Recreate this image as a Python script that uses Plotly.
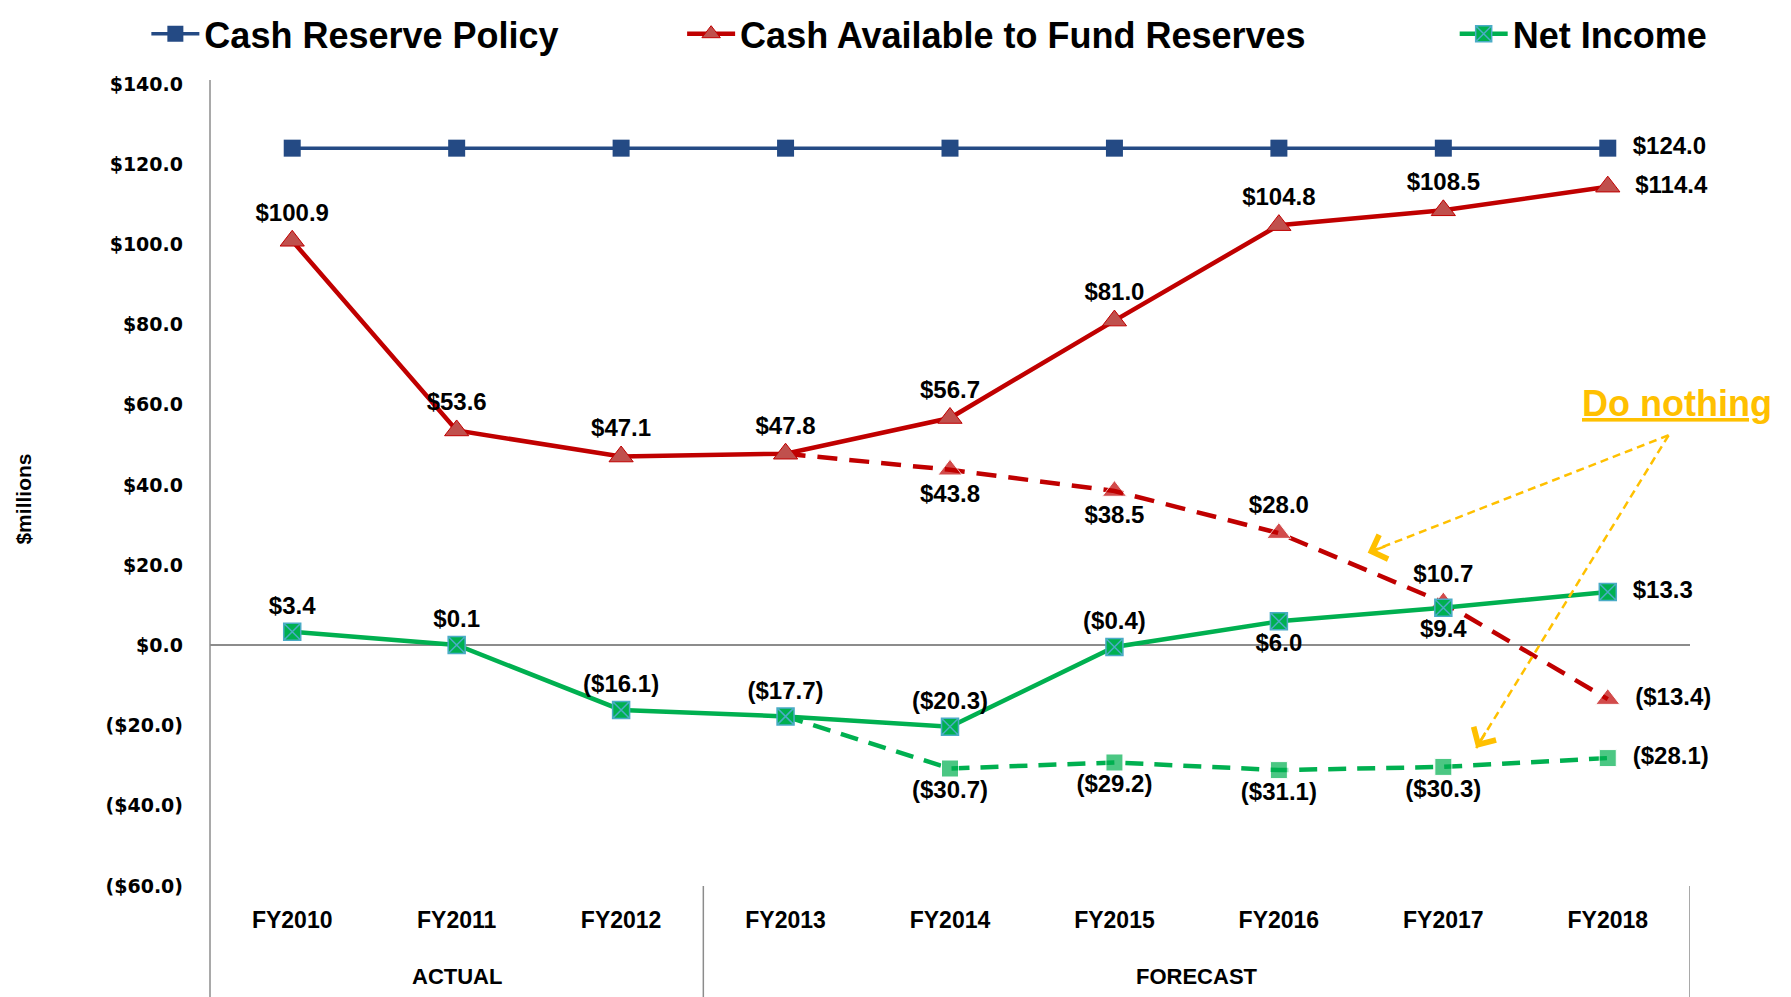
import plotly.graph_objects as go

years = ["FY2010", "FY2011", "FY2012", "FY2013", "FY2014", "FY2015", "FY2016", "FY2017", "FY2018"]
reserve_policy = [124.0, 124.0, 124.0, 124.0, 124.0, 124.0, 124.0, 124.0, 124.0]
cash_available = [100.9, 53.6, 47.1, 47.8, 56.7, 81.0, 104.8, 108.5, 114.4]
net_income = [3.4, 0.1, -16.1, -17.7, -20.3, -0.4, 6.0, 9.4, 13.3]
# "do nothing" scenario, starts at FY2013
dn_years = ["FY2013", "FY2014", "FY2015", "FY2016", "FY2017", "FY2018"]
dn_cash = [47.8, 43.8, 38.5, 28.0, 10.7, -13.4]
dn_income = [-17.7, -30.7, -29.2, -31.1, -30.3, -28.1]
yticks = [140, 120, 100, 80, 60, 40, 20, 0, -20, -40, -60]

BLUE = "#244A84"
RED = "#C00000"
GREEN = "#00B050"
GOLD = "#FFC000"
SANS = "Liberation Sans, Arial"
LABEL = dict(family=SANS, size=24, color="black", weight="bold")
PAD = "\u00a0\u00a0"


def money(v):
    return f"${v:.1f}" if v >= 0 else f"(${-v:.1f})"


def labels(vals, last_only=False):
    out = [("" if last_only else money(v)) for v in vals[:-1]]
    return out + [PAD + money(vals[-1])]


x_all = list(range(len(years)))
x_dn = [years.index(y) for y in dn_years]

fig = go.Figure()

fig.add_trace(go.Scatter(
    x=x_all, y=reserve_policy, name="Cash Reserve Policy", legend="legend",
    mode="lines+markers+text", line=dict(color=BLUE, width=3.5),
    marker=dict(symbol="square", size=17, color=BLUE),
    text=labels(reserve_policy, last_only=True), textposition="middle right",
    textfont=LABEL, cliponaxis=False))

dn_cash_text = labels(dn_cash)
dn_cash_text[0] = ""
fig.add_trace(go.Scatter(
    x=x_dn, y=dn_cash, showlegend=False, mode="lines+markers+text",
    line=dict(color=RED, width=4.5, dash="20px,12px"),
    marker=dict(symbol="triangle-up", size=[0] + [21] * 5, color=RED),
    text=dn_cash_text,
    textposition=["top center", "bottom center", "bottom center", "top center", "top center", "middle right"],
    textfont=LABEL, cliponaxis=False))

fig.add_trace(go.Scatter(
    x=x_all, y=cash_available, name="Cash Available to Fund Reserves", legend="legend2",
    mode="lines+markers+text", line=dict(color=RED, width=4.5),
    marker=dict(symbol="triangle-up", size=21, color="#C0504D", line=dict(color=RED, width=1)),
    text=labels(cash_available),
    textposition=["top center"] * 8 + ["middle right"],
    textfont=LABEL, cliponaxis=False))

dn_income_text = labels(dn_income)
dn_income_text[0] = ""
fig.add_trace(go.Scatter(
    x=x_dn, y=dn_income, showlegend=False, mode="lines+markers+text",
    line=dict(color=GREEN, width=4.5, dash="18px,11px"),
    marker=dict(symbol="square", size=[0] + [17] * 5, color=GREEN),
    text=dn_income_text,
    textposition=["top center"] + ["bottom center"] * 4 + ["middle right"],
    textfont=LABEL, cliponaxis=False))

fig.add_trace(go.Scatter(
    x=x_all, y=net_income, name="Net Income", legend="legend3",
    mode="lines+markers+text", line=dict(color=GREEN, width=4.5),
    marker=dict(symbol="square-x", size=17, color=GREEN, line=dict(color="#4BACC6", width=1.5)),
    text=labels(net_income),
    textposition=["top center"] * 6 + ["bottom center"] * 2 + ["middle right"],
    textfont=LABEL, cliponaxis=False))

AXIS = "#8C8C8C"
legend_font = dict(family=SANS, size=36, color="black", weight="bold")
legend_common = dict(orientation="h", yanchor="top", y=1.100, xanchor="left",
                     font=legend_font, bgcolor="rgba(0,0,0,0)", itemwidth=48)

# yellow "do nothing" arrows
arrow_start = (8.37, 52.4)
arrow_ends = [(6.54, 23.1, 19, -7), (7.2, -25.6, 10, -17)]
shapes = [
    dict(type="line", xref="paper", yref="paper", x0=0, x1=0, y0=-0.16, y1=1.005,
         line=dict(color=AXIS, width=1.5)),
    dict(type="line", xref="x", yref="paper", x0=2.5, x1=2.5, y0=-0.16, y1=0,
         line=dict(color=AXIS, width=1.5)),
    dict(type="line", xref="x", yref="paper", x0=8.5, x1=8.5, y0=-0.16, y1=0,
         line=dict(color=AXIS, width=1.5)),
]
annotations = [
    dict(text="ACTUAL", x=1, y=-0.113, xref="x", yref="paper", showarrow=False,
         yanchor="middle", font=dict(family=SANS, size=22, color="black", weight="bold")),
    dict(text="FORECAST", x=5.5, y=-0.113, xref="x", yref="paper", showarrow=False,
         yanchor="middle", font=dict(family=SANS, size=22, color="black", weight="bold")),
    dict(text="$millions", x=-0.126, y=0.4825, xref="paper", yref="paper", showarrow=False,
         xanchor="center", yanchor="middle", textangle=-90,
         font=dict(family=SANS, size=21, color="black", weight="bold")),
    dict(text="<u>Do nothing</u>", x=0.991, y=0.601, xref="paper", yref="paper", showarrow=False,
         xanchor="center", yanchor="middle",
         font=dict(family=SANS, size=36, color=GOLD, weight="bold")),
]
for ex, ey, ax, ay in arrow_ends:
    shapes.append(dict(type="line", xref="x", yref="y", x0=arrow_start[0], y0=arrow_start[1],
                       x1=ex, y1=ey, line=dict(color=GOLD, width=2.5, dash="8px,5px")))
    annotations.append(dict(x=ex, y=ey, xref="x", yref="y", ax=ax, ay=ay, text="",
                            showarrow=True, arrowhead=4, arrowsize=2, arrowwidth=2.5,
                            arrowcolor=GOLD, standoff=0))

fig.update_layout(
    width=1791, height=997,
    margin=dict(l=202, r=109, t=76, b=119, autoexpand=False),
    paper_bgcolor="white", plot_bgcolor="white",
    showlegend=True,
    legend=dict(legend_common, x=-0.043),
    legend2=dict(legend_common, x=0.319),
    legend3=dict(legend_common, x=0.841),
    xaxis=dict(range=[-0.5, 8.5], tickvals=x_all, ticktext=years, showgrid=False,
               zeroline=False, showline=False, ticks="", ticklabelstandoff=18,
               tickfont=dict(family=SANS, size=23, color="black", weight="bold")),
    yaxis=dict(range=[-60, 140], tickvals=yticks, ticktext=[money(v) for v in yticks],
               showgrid=False, zeroline=True, zerolinecolor=AXIS, zerolinewidth=1.5,
               showline=False, ticks="", ticklabelstandoff=26,
               tickfont=dict(family="DejaVu Sans", size=19, color="black", weight="bold")),
    shapes=shapes,
    annotations=annotations,
)

fig.write_html("out.html")
